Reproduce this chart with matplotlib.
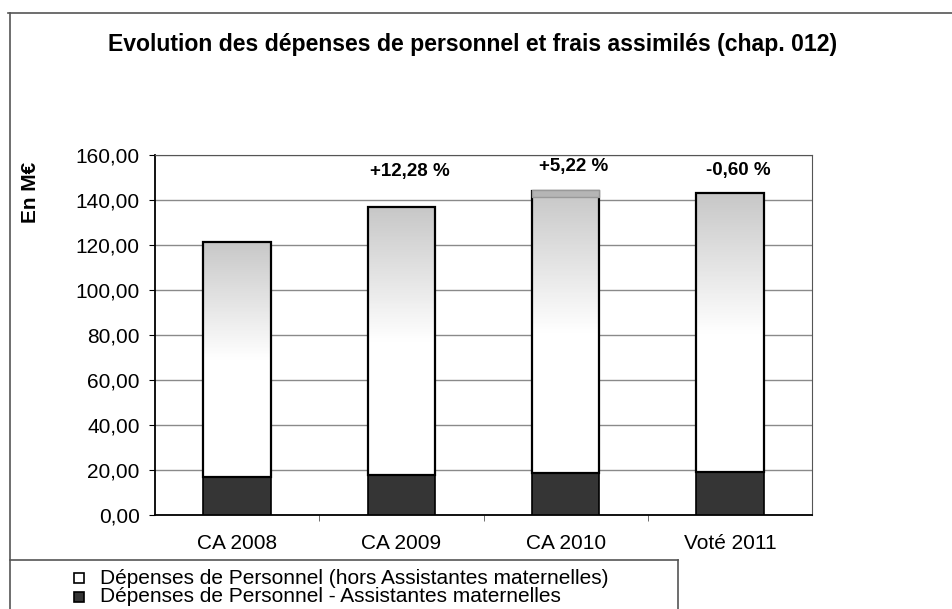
import matplotlib.pyplot as plt
import numpy as np
from matplotlib.colors import LinearSegmentedColormap
from matplotlib.lines import Line2D
from matplotlib.patches import Rectangle
from matplotlib.ticker import FuncFormatter

plt.rcParams["font.family"] = ["Liberation Sans", "DejaVu Sans"]

categories = ["CA 2008", "CA 2009", "CA 2010", "Voté 2011"]
totals = [121.5, 136.9, 143.8, 143.0]
assistantes = [16.7, 17.8, 18.5, 19.2]
hors_assistantes = [t - a for t, a in zip(totals, assistantes)]
evolutions = ["", "+12,28 %", "+5,22 %", "-0,60 %"]

title = "Evolution des dépenses de personnel et frais assimilés (chap. 012)"
legend_labels = ["Dépenses de Personnel (hors Assistantes maternelles)",
                 "Dépenses de Personnel - Assistantes maternelles"]

W, H = 952, 609
fig = plt.figure(figsize=(W / 100, H / 100), dpi=100)
ax = fig.add_axes([155 / W, (H - 515) / H, 657 / W, 360 / H])

x = np.arange(len(categories))
width = 0.41
dark = "#353535"

# dark part (assistantes maternelles)
ax.bar(x, assistantes, width, color=dark, edgecolor="black", linewidth=1.2, zorder=3)

# light part: grey gradient fading to white
grad = LinearSegmentedColormap.from_list("g", ["white", "white", "#c8c8c8"])
bars = ax.bar(x, hors_assistantes, width, bottom=assistantes, color="none",
              edgecolor="black", linewidth=1.6, zorder=4)
for b in bars:
    x0, y0 = b.get_x(), b.get_y()
    im = ax.imshow(np.linspace(0, 1, 100).reshape(-1, 1), cmap=grad, aspect="auto",
                   origin="lower", extent=[x0, x0 + b.get_width(), y0, y0 + b.get_height()],
                   zorder=3)
    im.set_clip_path(b)

# small grey data-label box sitting on top of the 2010 bar
b = bars[2]
ax.add_patch(Rectangle((b.get_x(), b.get_y() + b.get_height() - 2.5), b.get_width(), 3.2,
                       facecolor="#b5b5b5", edgecolor="#999999", lw=1, zorder=5))

ypos = [0, 152.6, 155.0, 153.3]
for i, lab in enumerate(evolutions):
    if lab:
        ax.text(i + 0.05, ypos[i], lab, ha="center", va="center", fontsize=13.5,
                fontweight="bold")

ax.set_xlim(-0.5, 3.5)
ax.set_ylim(0, 160)
ax.set_yticks(np.arange(0, 161, 20))
ax.yaxis.set_major_formatter(FuncFormatter(lambda v, p: f"{v:.2f}".replace(".", ",")))
ax.grid(axis="y", color="#8a8a8a", linewidth=1.0, zorder=0)
ax.set_axisbelow(True)

ax.set_xticks(x)
ax.set_xticklabels(categories)
ax.set_xticks([0.5, 1.5, 2.5], minor=True)
ax.tick_params(axis="x", which="major", length=0, pad=14, labelsize=15)
ax.tick_params(axis="x", which="minor", length=4, direction="out", color="#555555")
ax.tick_params(axis="y", length=4, direction="out", pad=7, labelsize=15)

for s in ["top", "right"]:
    ax.spines[s].set_color("#555555")
ax.spines["left"].set_linewidth(1.3)
ax.spines["bottom"].set_linewidth(1.3)

fig.text(473 / W, 1 - 45 / H, title, ha="center", va="center",
         fontsize=16.6, fontweight="bold")
fig.text(30 / W, 1 - 192 / H, "En M€", ha="center", va="center",
         rotation=90, fontsize=15, fontweight="bold")

# outer frame and legend box lines
fig.add_artist(Line2D([8 / W, 1], [1 - 13 / H] * 2, color="#555555", lw=1.2))
fig.add_artist(Line2D([10 / W] * 2, [0, 1 - 13 / H], color="#555555", lw=1.2))
fig.add_artist(Line2D([10 / W, 678 / W], [1 - 560 / H] * 2, color="#555555", lw=1.2))
fig.add_artist(Line2D([678 / W] * 2, [0, 1 - 560 / H], color="#555555", lw=1.2))

# legend entries
for k, (lab, fc) in enumerate(zip(legend_labels, ["white", dark])):
    yc = 578 + 19 * k
    fig.add_artist(Rectangle((74 / W, 1 - (yc + 5) / H), 10 / W, 10 / H,
                             facecolor=fc, edgecolor="black", lw=1.2))
    fig.text(100 / W, 1 - yc / H, lab, ha="left", va="center", fontsize=15)

fig.savefig("out.png", dpi=100)
